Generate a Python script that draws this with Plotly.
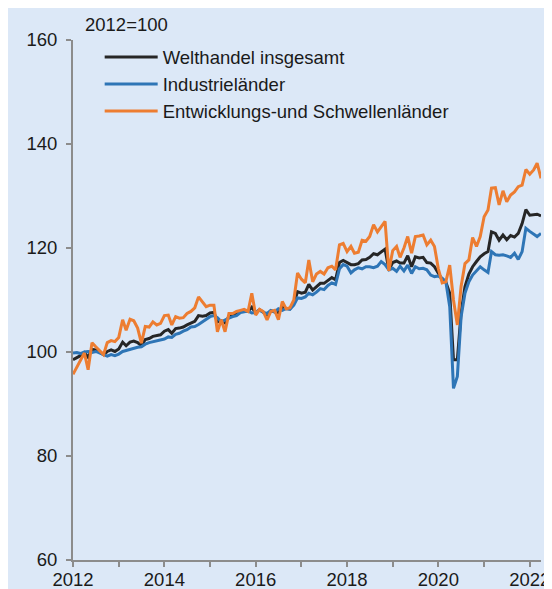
import pandas as pd
import plotly.graph_objects as go

months = pd.date_range("2012-01-01", periods=124, freq="MS")

welthandel = [
    98.5, 98.9, 99.3, 99.9, 99.0, 100.5, 100.4, 100.0, 99.5, 100.1, 100.4, 100.1,
    100.6, 101.9, 101.2, 101.9, 102.1, 101.8, 101.2, 102.4, 102.6, 103.0, 103.1, 103.3,
    104.0, 104.3, 103.6, 104.5, 104.6, 104.8, 105.2, 105.6, 105.9, 107.0, 106.9, 107.0,
    107.5, 107.6, 105.8, 106.0, 105.6, 106.8, 107.0, 107.3, 107.8, 107.9, 107.8, 108.6,
    107.5, 108.1, 107.7, 107.0, 107.9, 107.8, 107.6, 108.6, 108.3, 108.3, 109.4, 111.6,
    111.3, 111.5, 113.0, 111.9, 112.6, 113.2, 113.2, 113.8, 114.3, 113.9, 117.2, 117.6,
    117.2, 116.8, 116.8, 117.0, 117.7, 117.8, 118.2, 118.9, 118.7, 119.2, 119.8, 115.8,
    117.2, 117.5, 117.1, 117.1, 118.5, 116.4, 118.3, 118.1, 118.2, 117.2, 117.1, 116.4,
    115.2, 113.9, 113.4, 111.3, 98.5, 98.5, 107.5, 112.6, 115.0, 116.4, 117.4, 118.3,
    118.9, 119.3, 123.1, 122.8, 121.5, 122.5, 121.6, 122.4, 122.1, 122.8, 124.7, 127.4,
    126.3, 126.4, 126.5, 126.2,
]

industrielaender = [
    99.8, 99.9, 99.7, 100.0, 100.1, 99.9, 100.1, 99.8, 99.5, 99.2, 99.5, 99.3,
    99.6, 100.1, 100.3, 100.5, 100.8, 100.9, 101.0, 101.5, 101.8, 102.0, 102.1, 102.4,
    102.5, 102.9, 102.8, 103.4, 103.6, 104.0, 104.3, 104.8, 104.9, 105.3, 105.8, 106.3,
    106.8, 107.0, 106.6, 105.8, 106.2, 106.5, 106.8, 107.0, 107.6, 107.8, 107.9, 107.5,
    107.6, 108.1, 107.6, 107.4, 108.0, 107.7, 108.3, 108.0, 108.4, 108.2, 109.0, 110.4,
    110.3, 110.6, 111.3, 111.0, 111.5, 112.2, 112.0, 112.8, 113.3, 113.0, 116.0, 116.8,
    116.5, 115.2, 115.8, 116.2, 116.0, 116.4, 116.4, 116.2, 116.5, 117.4, 116.8, 115.8,
    116.1, 115.5, 116.5, 115.6, 116.7, 115.1, 116.4, 116.0, 116.1, 115.8, 114.8, 114.5,
    114.6, 114.2, 113.5, 108.7, 93.0, 95.3, 106.8, 111.3, 113.5, 114.8, 115.6, 116.4,
    115.8, 115.3, 119.3, 118.7, 118.6, 118.7, 118.5, 118.2, 119.0, 117.8, 119.3, 123.8,
    123.2, 122.6, 122.2, 122.8,
]

schwellenlaender = [
    95.7, 97.0, 98.5, 99.8, 96.6, 101.8, 101.0, 100.3, 99.5, 101.8, 102.2, 102.0,
    102.8, 106.2, 104.2, 106.3, 106.0, 104.6, 101.7, 104.9, 104.8, 105.8, 105.2, 105.5,
    107.0, 107.1, 105.2, 106.8, 106.5, 106.6, 107.4, 107.8, 108.5, 110.6, 109.7, 108.7,
    109.0, 109.0, 103.9, 106.2, 103.9, 107.4, 107.4, 107.8, 108.0, 108.2, 107.8, 111.3,
    107.1, 108.2, 107.8, 106.2, 107.8, 108.0, 106.2, 109.7, 108.3, 108.5, 110.0, 115.2,
    114.0, 113.3, 117.7, 113.5, 115.0, 115.5, 115.0, 116.2, 116.5, 115.8, 120.6, 120.9,
    119.3, 120.3, 119.0, 119.2, 121.5, 121.3, 122.2, 124.5, 123.1, 124.0, 125.1, 115.6,
    119.5, 120.3, 118.2, 120.0, 122.2, 119.0, 122.2, 122.3, 122.5, 120.6, 121.5, 120.3,
    116.0, 113.3, 113.5, 116.7, 110.0, 105.2, 112.6, 117.0, 117.7, 122.0, 120.3, 122.2,
    126.0, 127.3, 131.5, 131.6, 128.3, 131.0, 128.9, 130.2, 130.8, 131.8, 132.1, 135.1,
    134.2, 135.0, 136.3, 133.4,
]

series_names = ["Welthandel insgesamt", "Industrieländer",
                "Entwicklungs-und Schwellenländer"]
series_values = [welthandel, industrielaender, schwellenlaender]
series_colors = ["#262626", "#2e75b6", "#ed7d31"]

y_ticks = [60, 80, 100, 120, 140, 160]
unit_label = "2012=100"

FONT = "Liberation Sans, Arial, sans-serif"
FS = 18.5
AXIS_COLOR = "#8c8c8c"
BG = "#dce8f7"

fig = go.Figure()
for name, vals, col in zip(series_names, series_values, series_colors):
    fig.add_trace(go.Scatter(
        x=months, y=vals, mode="lines", name=name,
        line=dict(color=col, width=3),
    ))

# page body has an 8px default margin, so the figure is 8px smaller
fig.update_layout(
    width=544, height=581,
    margin=dict(l=65, r=11, t=32, b=29),
    paper_bgcolor=BG, plot_bgcolor=BG,
    font=dict(family=FONT, size=FS, color="#1a1a1a"),
    showlegend=True,
    legend=dict(
        x=0.057, y=1.003, xanchor="left", yanchor="top",
        bgcolor="rgba(0,0,0,0)", font=dict(size=FS),
        itemwidth=53, tracegroupgap=0,
    ),
    annotations=[dict(
        text=unit_label, xref="paper", yref="paper",
        x=10 / 468, y=1 + 16 / 520, xanchor="left", yanchor="middle",
        showarrow=False, font=dict(size=FS),
    )],
)

fig.update_xaxes(
    type="date",
    range=["2012-01-01", "2022-04-01"],
    dtick="M24", tick0="2012-01-01", tickformat="%Y",
    showline=True, linecolor=AXIS_COLOR, linewidth=2,
    ticks="outside", ticklen=5, tickwidth=2, tickcolor=AXIS_COLOR,
    minor=dict(dtick="M12", ticks="outside", ticklen=5, tickwidth=2,
               tickcolor=AXIS_COLOR, showgrid=False),
    showgrid=False, zeroline=False, automargin=False,
    ticklabelstandoff=-3,
)
fig.update_yaxes(
    range=[60, 160], tickvals=y_ticks,
    showline=True, linecolor=AXIS_COLOR, linewidth=2,
    ticks="outside", ticklen=5, tickwidth=2, tickcolor=AXIS_COLOR,
    showgrid=False, zeroline=False, automargin=False,
    ticklabelstandoff=5,
)

fig.write_html("out.html")
